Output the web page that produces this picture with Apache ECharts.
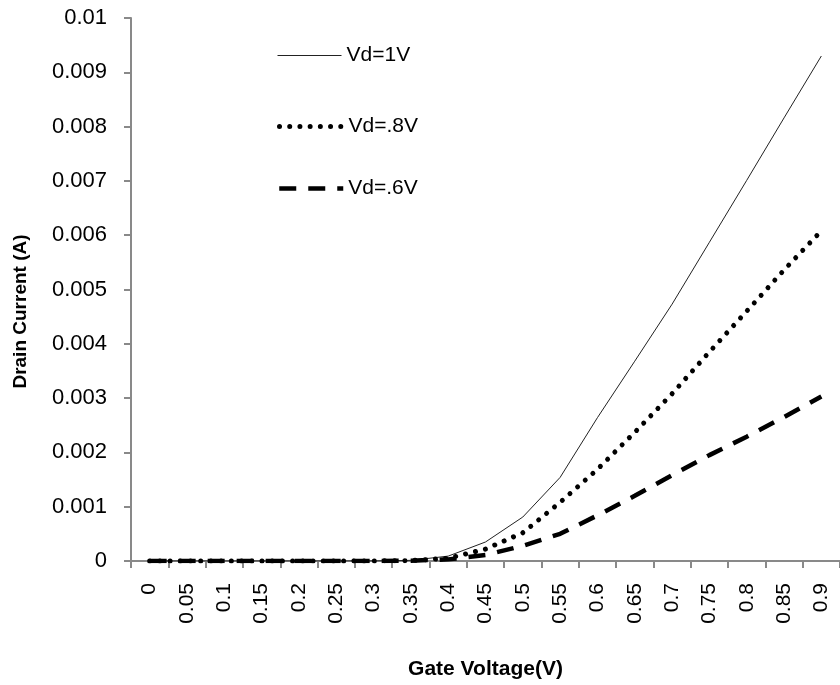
<!DOCTYPE html>
<html>
<head>
<meta charset="utf-8">
<script src="https://cdn.jsdelivr.net/npm/echarts@6/dist/echarts.min.js"></script>
<style>
html,body{margin:0;padding:0;background:#fff;}
#chart{width:840px;height:685px;}
</style>
</head>
<body>
<div id="chart"></div>
<script>
const categories = ['0','0.05','0.1','0.15','0.2','0.25','0.3','0.35','0.4','0.45','0.5','0.55','0.6','0.65','0.7','0.75','0.8','0.85','0.9'];
const vd1 = [0,0,0,0,0,0,0.000001,0.000012,0.00009,0.00035,0.00081,0.00154,0.00264,0.00368,0.00473,0.00587,0.00701,0.00816,0.0093];
const vd08 = [0,0,0,0,0,0,0.000001,0.000008,0.00005,0.00022,0.00052,0.00108,0.00169,0.00237,0.00308,0.00385,0.0046,0.00536,0.00608];
const vd06 = [0,0,0,0,0,0,0,0.000005,0.00003,0.00011,0.00028,0.00050,0.00084,0.00120,0.00158,0.00195,0.00229,0.00265,0.00303];
const seriesNames = ['Vd=1V','Vd=.8V','Vd=.6V'];
const yTicks = ['0','0.001','0.002','0.003','0.004','0.005','0.006','0.007','0.008','0.009','0.01'];

const FONT = 'Liberation Sans, Arial, sans-serif';
const chart = echarts.init(document.getElementById('chart'), null, {renderer:'canvas'});

const styles = [
  {color:'#222', width:1, type:'solid', cap:'butt'},
  {color:'#000', width:5, type:[0.01,10.2], cap:'round'},
  {color:'#000', width:4.5, type:[17,12], cap:'butt'}
];

function legendAt(i, top){
  return {
    data:[seriesNames[i]], left:277, top:top, orient:'vertical',
    itemWidth:64, itemHeight:14, itemGap:0, padding:0,
    itemStyle:{opacity:0},
    lineStyle:{color:styles[i].color, width:styles[i].width, type:styles[i].type, cap:styles[i].cap},
    textStyle:{fontFamily:FONT, fontSize:21, color:'#000'}
  };
}

chart.setOption({
  animation:false,
  backgroundColor:'#fff',
  legend:[legendAt(0,45), legendAt(1,116), legendAt(2,178)],
  grid:{left:131, top:18, bottom:121, width:714, containLabel:false},
  xAxis:{
    type:'category', data:categories, boundaryGap:true,
    name:'Gate Voltage(V)', nameLocation:'middle', nameGap:98,
    nameTextStyle:{fontFamily:FONT, fontSize:21, fontWeight:'bold', color:'#000'},
    axisLine:{lineStyle:{color:'#898989', width:2}},
    axisTick:{show:true, length:7, alignWithLabel:false, lineStyle:{color:'#898989', width:2}},
    axisLabel:{rotate:90, margin:22, interval:0, fontFamily:FONT, fontSize:21, color:'#000'},
    splitLine:{show:false}
  },
  yAxis:{
    type:'value', min:0, max:0.01, interval:0.001,
    name:'Drain Current (A)', nameLocation:'middle', nameGap:101,
    nameTextStyle:{fontFamily:FONT, fontSize:19, fontWeight:'bold', color:'#000', padding:[0,44,0,0]},
    axisLine:{show:true, lineStyle:{color:'#898989', width:2}},
    axisTick:{show:true, length:7, lineStyle:{color:'#898989', width:2}},
    axisLabel:{margin:24, fontFamily:FONT, fontSize:22, color:'#000',
      formatter:function(v,i){return yTicks[i] !== undefined ? yTicks[i] : String(v);}},
    splitLine:{show:false}
  },
  series:[
    {name:seriesNames[0], type:'line', data:vd1, symbol:'none',
      itemStyle:{color:'#000'}, lineStyle:styles[0]},
    {name:seriesNames[1], type:'line', data:vd08, symbol:'none',
      itemStyle:{color:'#000'}, lineStyle:styles[1]},
    {name:seriesNames[2], type:'line', data:vd06, symbol:'none',
      itemStyle:{color:'#000'}, lineStyle:styles[2]}
  ]
});
</script>
</body>
</html>
